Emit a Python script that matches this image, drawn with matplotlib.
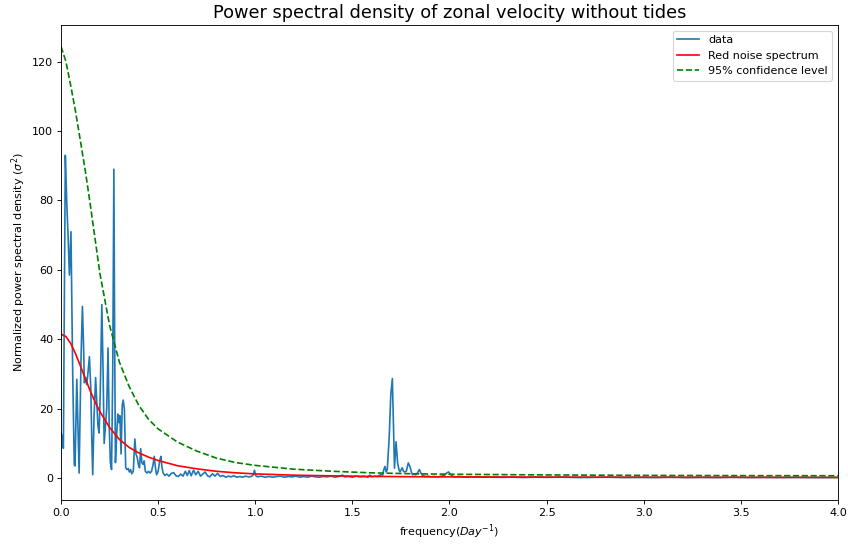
import matplotlib

matplotlib.use("Agg")
import matplotlib.pyplot as plt

# power spectrum of zonal velocity
freq = [
    0.000, 0.006, 0.012, 0.022, 0.029, 0.036, 0.043, 0.051, 0.060, 0.068,
    0.072, 0.081, 0.087, 0.093, 0.103, 0.110, 0.116, 0.120, 0.126, 0.132,
    0.138, 0.146, 0.153, 0.158, 0.163, 0.170, 0.178, 0.184, 0.190, 0.196,
    0.202, 0.210, 0.216, 0.222, 0.228, 0.235, 0.242, 0.248, 0.254, 0.260,
    0.266, 0.272, 0.276, 0.280, 0.286, 0.292, 0.298, 0.303, 0.309, 0.315,
    0.320, 0.326, 0.333, 0.340, 0.346, 0.352, 0.358, 0.364, 0.372, 0.380,
    0.386, 0.392, 0.398, 0.404, 0.410, 0.416, 0.422, 0.428, 0.434, 0.442,
    0.450, 0.458, 0.466, 0.474, 0.480, 0.486, 0.492, 0.500, 0.508, 0.514,
    0.520, 0.526, 0.534, 0.545, 0.556, 0.568, 0.580, 0.592, 0.604, 0.616,
    0.628, 0.640, 0.650, 0.660, 0.670, 0.682, 0.694, 0.706, 0.718, 0.730,
    0.742, 0.754, 0.766, 0.780, 0.792, 0.806, 0.820, 0.834, 0.848, 0.862,
    0.876, 0.890, 0.905, 0.920, 0.935, 0.950, 0.965, 0.980, 0.990, 0.996,
    1.002, 1.012, 1.030, 1.050, 1.070, 1.090, 1.110, 1.130, 1.150, 1.170,
    1.190, 1.210, 1.230, 1.250, 1.270, 1.290, 1.310, 1.330, 1.350, 1.370,
    1.390, 1.410, 1.430, 1.450, 1.460, 1.480, 1.500, 1.520, 1.540, 1.560,
    1.580, 1.590, 1.600, 1.615, 1.630, 1.645, 1.656, 1.662, 1.668, 1.674,
    1.680, 1.690, 1.698, 1.706, 1.712, 1.717, 1.725, 1.733, 1.740, 1.745,
    1.752, 1.757, 1.763, 1.767, 1.778, 1.788, 1.797, 1.804, 1.810, 1.818,
    1.826, 1.835, 1.845, 1.853, 1.860, 1.875, 1.890, 1.905, 1.920, 1.940,
    1.960, 1.975, 1.988, 1.996, 2.004, 2.015, 2.030, 2.050, 2.080, 2.110,
    2.150, 2.200, 2.260, 2.320, 2.380, 2.440, 2.500, 2.580, 2.660, 2.740,
    2.820, 2.900, 2.980, 3.060, 3.140, 3.220, 3.300, 3.380, 3.460, 3.540,
    3.620, 3.700, 3.780, 3.860, 3.940, 4.000,
]
psd = [
    13.0, 12.0, 8.6, 93.0, 80.0, 70.0, 58.5, 71.0, 30.0, 4.0,
    3.5, 28.5, 15.0, 1.5, 35.0, 49.5, 38.0, 27.5, 29.0, 27.0,
    30.0, 35.0, 26.0, 12.0, 1.0, 18.0, 29.0, 22.0, 15.0, 13.0,
    25.0, 50.0, 32.0, 10.0, 14.5, 20.0, 37.5, 15.0, 4.5, 2.5,
    30.0, 89.0, 40.0, 4.5, 12.0, 18.5, 16.0, 18.0, 7.0, 21.0,
    22.5, 20.0, 3.0, 2.5, 2.8, 1.8, 2.5, 1.3, 2.0, 11.3,
    7.0, 6.0, 4.0, 3.0, 8.5, 4.5, 4.0, 5.0, 2.0, 1.5,
    2.0, 1.5, 2.0, 4.0, 6.3, 3.0, 1.0, 2.0, 5.0, 6.3,
    3.0, 1.5, 0.8, 1.2, 0.6, 1.4, 1.6, 0.7, 0.5, 1.2,
    0.6, 2.0, 0.8, 2.2, 0.7, 2.3, 1.0, 2.0, 0.6, 1.2,
    1.8, 0.7, 0.4, 1.3, 0.6, 1.4, 0.5, 0.8, 0.3, 0.6,
    0.4, 0.7, 0.3, 0.5, 0.3, 0.6, 0.4, 0.5, 1.0, 2.3,
    0.8, 0.4, 0.6, 0.3, 0.5, 0.3, 0.5, 0.6, 0.3, 0.5,
    0.4, 0.6, 0.3, 0.5, 0.3, 0.6, 0.4, 0.3, 0.5, 0.4,
    0.6, 0.3, 0.5, 0.9, 0.4, 0.5, 0.3, 0.6, 0.4, 0.5,
    0.3, 0.9, 0.4, 0.6, 0.5, 1.0, 0.9, 2.5, 3.4, 1.8,
    2.5, 12.0, 24.0, 28.7, 15.0, 2.9, 10.5, 4.5, 2.5, 1.8,
    2.5, 3.0, 2.0, 1.8, 2.0, 4.4, 3.3, 1.8, 1.0, 1.2,
    1.0, 1.5, 2.5, 1.5, 0.9, 0.5, 0.6, 0.4, 0.5, 0.4,
    0.6, 0.9, 1.6, 1.8, 1.2, 0.6, 0.4, 0.5, 0.3, 0.4,
    0.3, 0.35, 0.25, 0.3, 0.2, 0.3, 0.25, 0.3, 0.2, 0.25,
    0.3, 0.2, 0.25, 0.2, 0.3, 0.2, 0.25, 0.2, 0.3, 0.2,
    0.25, 0.2, 0.25, 0.2, 0.2, 0.2,
]

# red noise background and 95% confidence level
freq_fit = [
    0.000, 0.025, 0.050, 0.075, 0.100, 0.125, 0.150, 0.175, 0.200, 0.250,
    0.300, 0.350, 0.400, 0.450, 0.500, 0.600, 0.700, 0.800, 0.900, 1.000,
    1.200, 1.400, 1.600, 1.800, 2.000, 2.500, 3.000, 3.500, 4.000,
]
red_noise = [
    41.5, 40.8, 38.8, 35.8, 32.3, 28.7, 25.2, 22.0, 19.2, 14.6,
    11.2, 8.9, 7.3, 6.1, 5.1, 3.6, 2.7, 2.0, 1.55, 1.25,
    0.88, 0.68, 0.53, 0.44, 0.39, 0.32, 0.28, 0.25, 0.24,
]
conf95 = [
    124.3, 120.0, 113.0, 105.5, 97.0, 88.5, 79.0, 69.0, 59.0, 44.0,
    33.5, 26.5, 21.0, 17.0, 14.2, 10.4, 7.8, 5.8, 4.5, 3.7,
    2.6, 2.0, 1.55, 1.3, 1.15, 0.95, 0.82, 0.75, 0.72,
]

fig = plt.figure(figsize=(848 / 80, 545 / 80), dpi=80)
ax = fig.add_axes([0.072, 0.083, 0.916, 0.871])

ax.plot(freq, psd, label="data")
ax.plot(freq_fit, red_noise, "r", label="Red noise spectrum")
ax.plot(freq_fit, conf95, "g--", label="95% confidence level")

ax.set_xlim(0, 4)
ax.set_ylim(-6.2, 130.5)
ax.set_xlabel("frequency($Day^{-1}$)")
ax.set_ylabel(r"Normalized power spectral density ($\sigma^2$)")
ax.set_title("Power spectral density of zonal velocity without tides", fontsize=16)
ax.legend(loc="upper right")

fig.savefig("out.png", dpi=80)
